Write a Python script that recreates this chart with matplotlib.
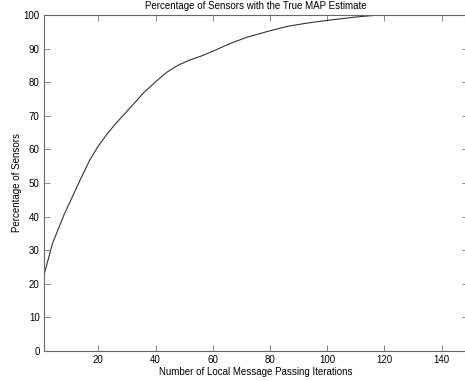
import matplotlib
matplotlib.use("Agg")
import matplotlib.pyplot as plt

iterations = [1, 4, 8, 11, 14, 17, 20, 23, 26, 29, 32, 36, 40, 44, 48, 52, 56,
              60, 66, 72, 80, 86, 93, 100, 110, 118, 130, 140, 149]
percent = [22.5, 32, 40.5, 46, 51.5, 56.8, 61.0, 64.5, 67.6, 70.4, 73.2, 77,
           80.1, 83.0, 85.1, 86.6, 87.8, 89.2, 91.5, 93.4, 95.3, 96.6, 97.6,
           98.4, 99.4, 100, 100, 100, 100]
xticks = [20, 40, 60, 80, 100, 120, 140]
yticks = [0, 10, 20, 30, 40, 50, 60, 70, 80, 90, 100]

plt.rcParams['font.family'] = ['Liberation Sans', 'DejaVu Sans']
fig = plt.figure(figsize=(4.65, 3.81), dpi=100)
ax = fig.add_axes([43.9/465, 30/381, (467.5-43.9)/465, 336/381])
ax.plot(iterations, percent, color='#333333', linewidth=0.8)
ax.set_xlim(1, 149)
ax.set_ylim(0, 100)
ax.set_xticks(xticks)
ax.set_yticks(yticks)
ax.tick_params(direction='in', length=4, width=0.6, color='#777777',
               labelsize=7, top=True, right=True, pad=3)
for s in ax.spines.values():
    s.set_linewidth(0.8)
    s.set_color('#666666')
ax.set_title('Percentage of Sensors with the True MAP Estimate', fontsize=7, pad=4)
ax.set_xlabel('Number of Local Message Passing Iterations', fontsize=7, labelpad=1.5)
ax.set_ylabel('Percentage of Sensors', fontsize=7, labelpad=1)
fig.savefig('out.png', dpi=100)
